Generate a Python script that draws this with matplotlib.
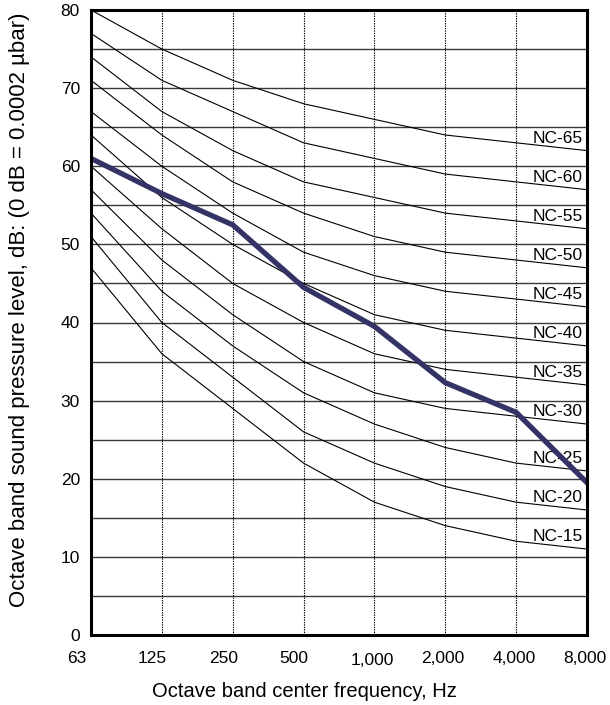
import numpy as np
import matplotlib.pyplot as plt
import matplotlib.transforms as mtransforms

plt.rcParams['font.family'] = ['Liberation Sans', 'DejaVu Sans']

# Octave band centre frequencies
freq_labels = ['63', '125', '250', '500', '1,000', '2,000', '4,000', '8,000']

# NC curves (dB) at each octave band
nc_names = ['NC-15', 'NC-20', 'NC-25', 'NC-30', 'NC-35', 'NC-40',
            'NC-45', 'NC-50', 'NC-55', 'NC-60', 'NC-65']
nc_15 = [47, 36, 29, 22, 17, 14, 12, 11]
nc_20 = [51, 40, 33, 26, 22, 19, 17, 16]
nc_25 = [54, 44, 37, 31, 27, 24, 22, 21]
nc_30 = [57, 48, 41, 35, 31, 29, 28, 27]
nc_35 = [60, 52, 45, 40, 36, 34, 33, 32]
nc_40 = [64, 56, 50, 45, 41, 39, 38, 37]
nc_45 = [67, 60, 54, 49, 46, 44, 43, 42]
nc_50 = [71, 64, 58, 54, 51, 49, 48, 47]
nc_55 = [74, 67, 62, 58, 56, 54, 53, 52]
nc_60 = [77, 71, 67, 63, 61, 59, 58, 57]
nc_65 = [80, 75, 71, 68, 66, 64, 63, 62]
nc_curves = [nc_15, nc_20, nc_25, nc_30, nc_35, nc_40,
             nc_45, nc_50, nc_55, nc_60, nc_65]

# Measured spectrum (thick line)
measured = [61, 56.5, 52.5, 44.5, 39.5, 32.3, 28.5, 19.5]

x = np.arange(len(freq_labels))

fig = plt.figure(figsize=(6.1, 7.05), dpi=100)
ax = fig.add_axes([91 / 610, 1 - 635 / 705, 496 / 610, 625 / 705])

# Grid: solid horizontal every 5 dB, dotted vertical at each band
for yy in range(5, 80, 5):
    ax.axhline(yy, color='#3a3a3a', lw=1.0, zorder=1)
for xx in x[1:-1]:
    ax.axvline(xx, color='black', lw=0.8, ls=(0, (1.2, 1.0)), zorder=1)

# NC curves + labels at the right end
for name, vals in zip(nc_names, nc_curves):
    ax.plot(x, vals, color='black', lw=0.8, zorder=2)
    ax.text(6.94, vals[-1] + 1.0, name, ha='right', va='baseline',
            fontsize=12.5, zorder=3)

# Measured spectrum
ax.plot(x, measured, color='#333366', lw=3.8, solid_joinstyle='miter', zorder=4)

ax.set_xlim(0, 7)
ax.set_ylim(0, 80)
ax.set_xticks(x)
ax.set_xticklabels(freq_labels, fontsize=12.5, ha='left')
ax.set_yticks(range(0, 81, 10))
ax.tick_params(axis='both', length=0, labelsize=12.5)
ax.tick_params(axis='x', pad=11.5)
ax.tick_params(axis='y', pad=8)

# x tick labels start a bit left of each band position
offset = mtransforms.ScaledTranslation(-24 / 100, 0, fig.dpi_scale_trans)
for lab in ax.get_xticklabels():
    lab.set_transform(lab.get_transform() + offset)
# the 1,000 label sits a little lower in the original
low = mtransforms.ScaledTranslation(0, -2 / 100, fig.dpi_scale_trans)
lab_1k = ax.get_xticklabels()[4]
lab_1k.set_transform(lab_1k.get_transform() + low)

for sp in ax.spines.values():
    sp.set_linewidth(2.2)
    sp.set_zorder(5)

ax.set_xlabel('Octave band center frequency, Hz', fontsize=14.5)
ax.set_ylabel('Octave band sound pressure level, dB: (0 dB = 0.0002 µbar)',
              fontsize=16)
ax.xaxis.set_label_coords(0.431, -0.075)
ax.yaxis.set_label_coords(-0.122, 0.52)

fig.savefig('out.png', dpi=100)
